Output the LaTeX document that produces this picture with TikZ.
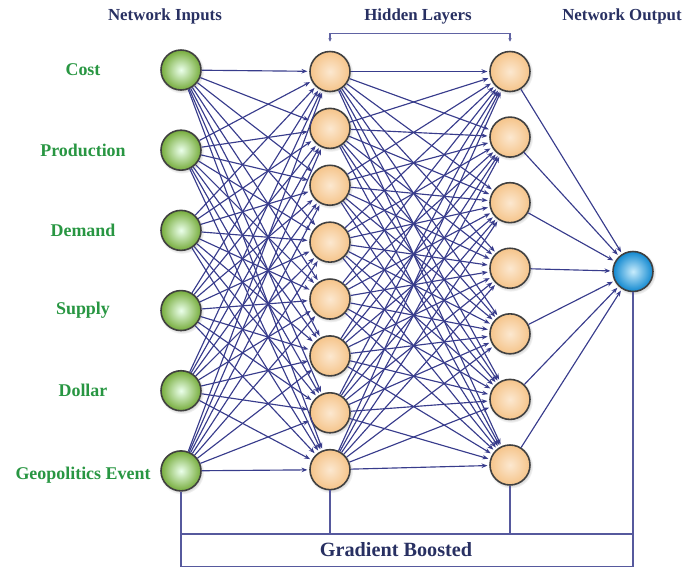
\documentclass[tikz,border=0pt]{standalone}
\usepackage{fontspec}
\setmainfont{Liberation Serif}
\usepackage{tikz}
\usetikzlibrary{positioning, calc, arrows.meta, shadows}
\usepackage{xcolor}

\definecolor{linkblue}{RGB}{56,60,140}
\definecolor{headnavy}{RGB}{40,48,98}
\definecolor{labelgreen}{RGB}{40,150,66}

\begin{document}
\begin{tikzpicture}[
    neuron/.style={circle, draw=black!75, line width=0.9pt, minimum size=0.8cm, inner sep=0pt,
        circular drop shadow={shadow xshift=0.4pt, shadow yshift=-0.6pt, shadow scale=1.12, opacity=.3}},
    input/.style={neuron, shading=radial, inner color=green!8!white, outer color={rgb,255:red,118;green,172;blue,60}},
    hidden/.style={neuron, shading=radial, inner color={rgb,255:red,252;green,232;blue,208}, outer color={rgb,255:red,245;green,196;blue,138}},
    output/.style={neuron, shading=radial, inner color={rgb,255:red,200;green,236;blue,252}, outer color={rgb,255:red,16;green,136;blue,208}},
    link/.style={draw=linkblue, line width=0.65pt, shorten >=1pt, -{Stealth[length=3.4pt, width=2.6pt]}},
    frame/.style={draw=linkblue!85, line width=0.8pt},
    head_text/.style={text=headnavy, font=\bfseries\fontsize{9.6}{11}\selectfont},
    var_text/.style={text=labelgreen, font=\bfseries\fontsize{10.2}{12}\selectfont}]

    \useasboundingbox (0,0) rectangle (13.7,-11.36);

    % Input layer
    \node[input] at (3.62,-1.40) (in1) {};
    \node[input, below=.772cm of in1] (in2) {};
    \node[input, below=.772cm of in2] (in3) {};
    \node[input, below=.772cm of in3] (in4) {};
    \node[input, below=.772cm of in4] (in5) {};
    \node[input, below=.772cm of in5] (in6) {};

    % First hidden layer
    \node[hidden] at (6.60,-1.43) (ha1) {};
    \node[hidden, below=.306cm of ha1] (ha2) {};
    \node[hidden, below=.306cm of ha2] (ha3) {};
    \node[hidden, below=.306cm of ha3] (ha4) {};
    \node[hidden, below=.306cm of ha4] (ha5) {};
    \node[hidden, below=.306cm of ha5] (ha6) {};
    \node[hidden, below=.306cm of ha6] (ha7) {};
    \node[hidden, below=.306cm of ha7] (ha8) {};

    % Second hidden layer
    \node[hidden] at (10.20,-1.43) (hb1) {};
    \node[hidden, below=.48cm of hb1] (hb2) {};
    \node[hidden, below=.48cm of hb2] (hb3) {};
    \node[hidden, below=.48cm of hb3] (hb4) {};
    \node[hidden, below=.48cm of hb4] (hb5) {};
    \node[hidden, below=.48cm of hb5] (hb6) {};
    \node[hidden, below=.48cm of hb6] (hb7) {};

    % Output
    \node[output] at (12.66,-5.43) (out) {};

    % Variable names
    \coordinate (lblx) at (1.66,0);
    \node[var_text] at (in1 -| lblx) (cost) {Cost};
    \node[var_text] at (in2 -| lblx) (prod) {Production};
    \node[var_text] at (in3 -| lblx) (demand) {Demand};
    \node[var_text] at (in4 -| lblx) (supply) {Supply};
    \node[var_text] at (in5 -| lblx) (dollar) {Dollar};
    \node[var_text] at ([yshift=-0.08cm]in6 -| lblx) (geo) {Geopolitics Event};

    % Headers
    \node[head_text] at (3.30,-0.33) (inputs) {Network Inputs};
    \node[head_text] at (8.36,-0.33) (hiddens) {Hidden Layers};
    \node[head_text] at (12.44,-0.33) (outputs) {Network Output};
    \draw[draw=linkblue!80, line width=0.6pt, {Stealth[length=2pt, width=2pt]}-{Stealth[length=2pt, width=2pt]}]
        ([yshift=0.18cm]ha1.north) -- ([yshift=0.34cm]ha1.north) -- ([yshift=0.34cm]hb1.north) -- ([yshift=0.18cm]hb1.north);

    % Fully connected links
    \foreach \i in {1,...,6}
        \foreach \j in {1,...,8}
            \draw[link] (in\i) -- (ha\j);
    \foreach \i in {1,...,8}
        \foreach \j in {1,...,7}
            \draw[link] (ha\i) -- (hb\j);
    \foreach \j in {1,...,7}
        \draw[link] (hb\j) -- (out);

    % Gradient boosted box
    \coordinate (gb_top) at (0,-10.68);
    \coordinate (gb_bot) at (0,-11.33);
    \draw[frame] (in6.south) -- (in6 |- gb_bot) -- (out |- gb_bot) -- (out.south);
    \draw[frame] (in6 |- gb_top) -- (out |- gb_top);
    \draw[frame] (ha8.south) -- (ha8 |- gb_top);
    \draw[frame] (hb7.south) -- (hb7 |- gb_top);
    \node[text=headnavy, font=\bfseries\fontsize{11.5}{13}\selectfont] at (7.92,-11.0) (gb) {Gradient Boosted};
\end{tikzpicture}
\end{document}
